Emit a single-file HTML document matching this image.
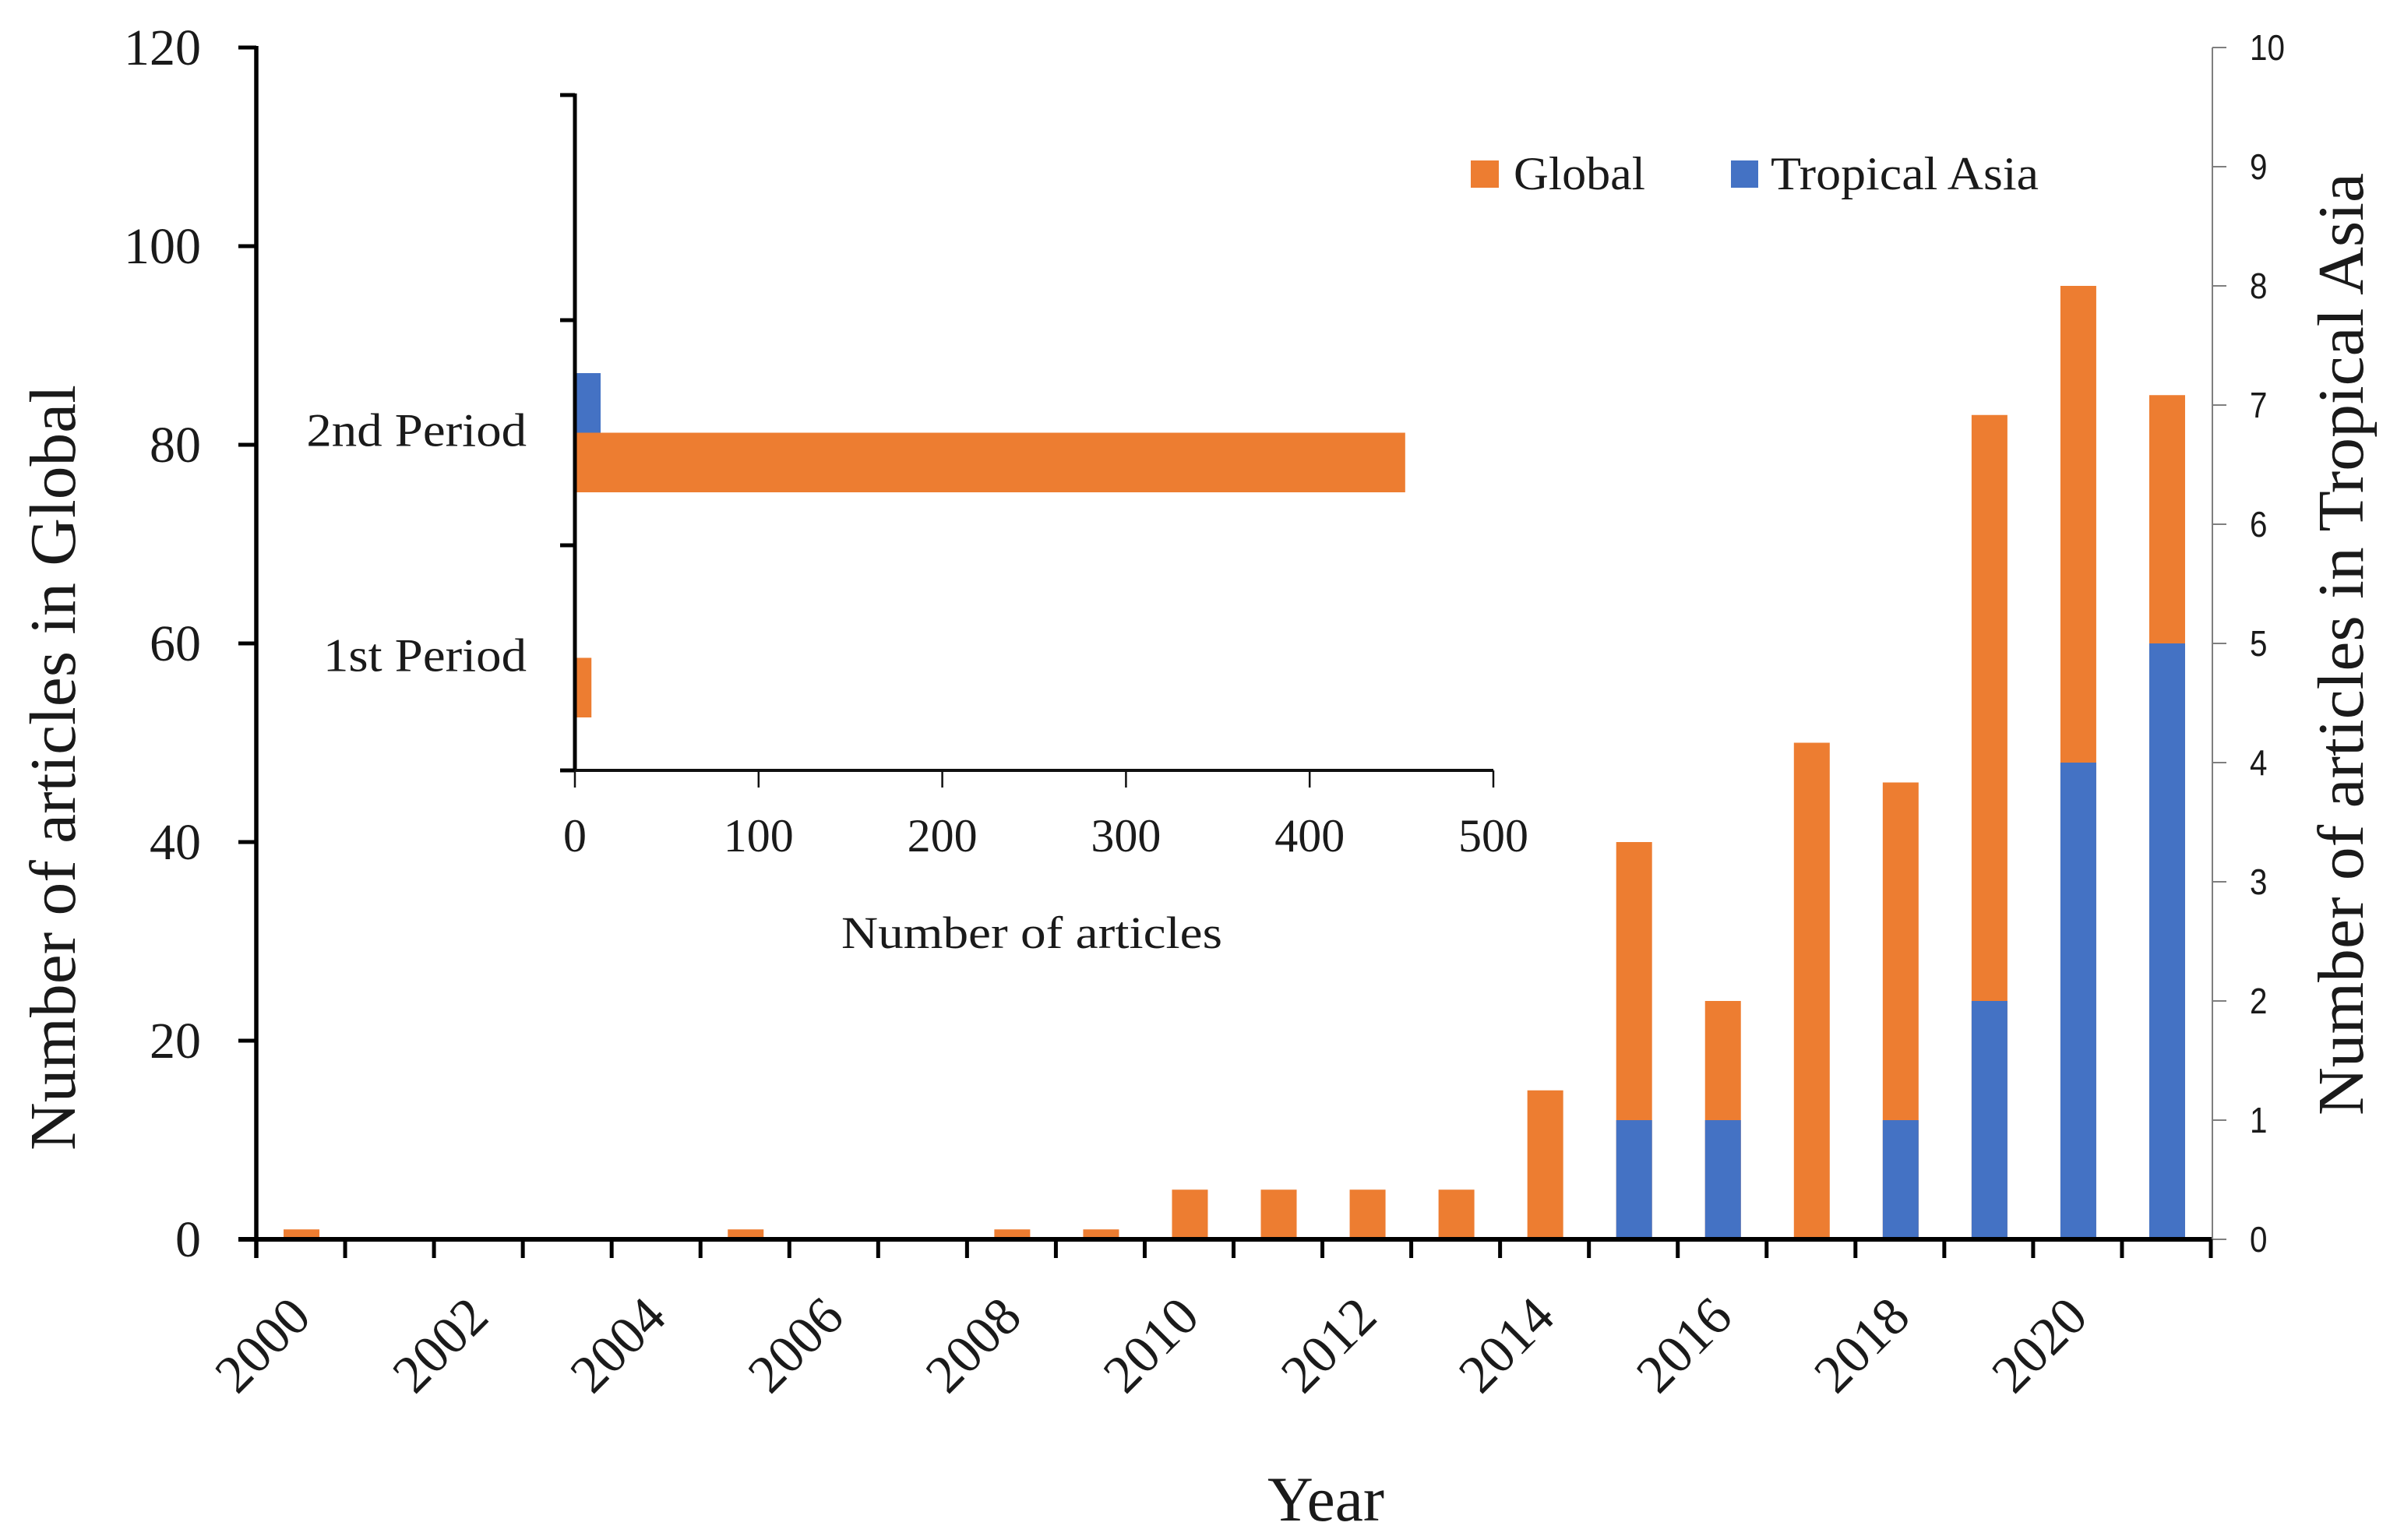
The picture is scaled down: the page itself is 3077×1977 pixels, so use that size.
<!DOCTYPE html>
<html lang="en">
<head>
<meta charset="utf-8">
<title>Number of articles in Global and Tropical Asia</title>
<style>
html,body{margin:0;padding:0;background:#fff;}
svg{display:block;}
text{font-family:"Liberation Serif",serif;fill:#1a1a1a;}
</style>
</head>
<body>
<svg id="chart" xmlns="http://www.w3.org/2000/svg" width="3077" height="1977" viewBox="0 0 3077 1977">
  <rect x="0" y="0" width="3077" height="1977" fill="#ffffff"/>
  <g id="main-bars"></g>
  <g id="main-axes"></g>
  <g id="inset-bars"></g>
  <g id="inset-axes"></g>

  <text transform="translate(96,1477) rotate(-90)" font-size="84" textLength="983" lengthAdjust="spacingAndGlyphs">Number of articles in Global</text>
  <text transform="translate(3033,1432) rotate(-90)" font-size="84" textLength="1210" lengthAdjust="spacingAndGlyphs">Number of articles in Tropical Asia</text>
  <text x="1627" y="1952" font-size="82" textLength="150" lengthAdjust="spacingAndGlyphs">Year</text>
  <text x="1080" y="1217" font-size="58" textLength="489" lengthAdjust="spacingAndGlyphs">Number of articles</text>

  <g>
    <rect x="1888" y="206" width="36" height="35" fill="#ED7D31"/>
    <text x="1943" y="243" font-size="60" textLength="169" lengthAdjust="spacingAndGlyphs">Global</text>
    <rect x="2222" y="206" width="35" height="35" fill="#4472C4"/>
    <text x="2273" y="243" font-size="60" textLength="344" lengthAdjust="spacingAndGlyphs">Tropical Asia</text>
  </g>
</svg>
<script>
const years = [2000,2001,2002,2003,2004,2005,2006,2007,2008,2009,2010,2011,2012,2013,2014,2015,2016,2017,2018,2019,2020,2021];
const globalCounts = [1,0,0,0,0,1,0,0,1,1,5,5,5,5,15,40,24,50,46,83,96,85];
const tropicalCounts = [0,0,0,0,0,0,0,0,0,0,0,0,0,0,0,1,1,0,1,2,4,5];
const leftTicks = [0,20,40,60,80,100,120];
const rightTicks = [0,1,2,3,4,5,6,7,8,9,10];
const yearLabels = [2000,2002,2004,2006,2008,2010,2012,2014,2016,2018,2020];
const periods = ['1st Period','2nd Period',''];
const periodGlobal = [9,452,0];
const periodTropical = [0,14,0];
const insetTicks = [0,100,200,300,400,500];

const NS = 'http://www.w3.org/2000/svg';
function make(parent, tag, attrs, txt) {
  const n = document.createElementNS(NS, tag);
  for (const k in attrs) n.setAttribute(k, attrs[k]);
  if (txt !== undefined) n.textContent = txt;
  parent.appendChild(n);
  return n;
}

// main chart axis functions
const plotLeft = 329, plotRight = 2838, plotBase = 1591, plotTop = 61;
const barW = 46;
const xBand = (plotRight - plotLeft) / years.length;
const xEdge = i => plotLeft + i * xBand;
const xMid = i => plotLeft + (i + 0.5) * xBand + 1;
const yLeft = v => plotBase - v / 120 * (plotBase - plotTop);
const yRight = v => plotBase - v / 10 * (plotBase - plotTop);

const mainBars = document.getElementById('main-bars');
const mainAxes = document.getElementById('main-axes');

years.forEach((yr, i) => {
  if (globalCounts[i] > 0) {
    const b = make(mainBars, 'rect', {x: xMid(i) - barW / 2, y: yLeft(globalCounts[i]), width: barW, height: plotBase - yLeft(globalCounts[i]), fill: '#ED7D31'});
    
    
  }
});
years.forEach((yr, i) => {
  if (tropicalCounts[i] > 0) {
    const b = make(mainBars, 'rect', {x: xMid(i) - barW / 2, y: yRight(tropicalCounts[i]), width: barW, height: plotBase - yRight(tropicalCounts[i]), fill: '#4472C4'});
    
    
  }
});

const leftAxis = make(mainAxes, 'line', {x1: plotLeft, y1: plotTop - 2, x2: plotLeft, y2: plotBase + 24, stroke: '#000', 'stroke-width': 5.5});



const baseAxis = make(mainAxes, 'line', {x1: 306, y1: plotBase, x2: plotRight + 1, y2: plotBase, stroke: '#000', 'stroke-width': 6});



const rightAxis = make(mainAxes, 'line', {x1: 2840, y1: plotTop, x2: 2840, y2: plotBase, stroke: '#7f7f7f', 'stroke-width': 2});



leftTicks.forEach(v => {
  const t = make(mainAxes, 'line', {x1: 306, y1: yLeft(v), x2: plotLeft, y2: yLeft(v), stroke: '#000', 'stroke-width': 5});
  
  
  const l = make(mainAxes, 'text', {x: 258, y: yLeft(v) + 22, 'font-size': 66, 'text-anchor': 'end'}, String(v));
  
  
});

rightTicks.forEach(v => {
  const t = make(mainAxes, 'line', {x1: 2840, y1: yRight(v), x2: 2858, y2: yRight(v), stroke: '#7f7f7f', 'stroke-width': 2});
  
  
  const l = make(mainAxes, 'text', {x: 2888, y: yRight(v) + 16, 'font-size': 46, style: 'font-family:"Liberation Sans",sans-serif', textLength: 22.5 * String(v).length, lengthAdjust: 'spacingAndGlyphs'}, String(v));
  
  
});

for (let i = 0; i <= years.length; i++) {
  const t = make(mainAxes, 'line', {x1: xEdge(i), y1: plotBase, x2: xEdge(i), y2: 1615, stroke: '#000', 'stroke-width': 5});
  
  
}

yearLabels.forEach(yr => {
  const i = years.indexOf(yr);
  const px = xMid(i) + 15, py = 1694;
  const l = make(mainAxes, 'text', {transform: 'translate(' + px + ',' + py + ') rotate(-45)', 'font-size': 69, 'text-anchor': 'end'}, String(yr));
  
  
});

// inset chart axis functions
const inLeft = 738, inBase = 989, inBandH = 289, inBarH = 76.5;
const xIn = v => inLeft + v * 2.358;
const bandCentre = i => inBase - (i + 0.5) * inBandH;

const insetBars = document.getElementById('inset-bars');
const insetAxes = document.getElementById('inset-axes');

periods.forEach((p, i) => {
  if (periodGlobal[i] > 0) {
    const b = make(insetBars, 'rect', {x: inLeft, y: bandCentre(i), width: xIn(periodGlobal[i]) - inLeft, height: inBarH, fill: '#ED7D31'});
    
    
  }
  if (periodTropical[i] > 0) {
    const b = make(insetBars, 'rect', {x: inLeft, y: bandCentre(i) - inBarH, width: xIn(periodTropical[i]) - inLeft, height: inBarH, fill: '#4472C4'});
    
    
  }
  if (p) {
    const l = make(insetAxes, 'text', {x: 676, y: bandCentre(i) + 17, 'font-size': 60, 'text-anchor': 'end'}, p);
    
    
    l.setAttribute('textLength', l.getComputedTextLength() * 1.08);
    l.setAttribute('lengthAdjust', 'spacingAndGlyphs');
  }
});

const inY = make(insetAxes, 'line', {x1: inLeft, y1: inBase - periods.length * inBandH - 2, x2: inLeft, y2: inBase + 1, stroke: '#000', 'stroke-width': 5});



const inX = make(insetAxes, 'line', {x1: inLeft, y1: inBase, x2: xIn(500), y2: inBase, stroke: '#111', 'stroke-width': 4});



for (let i = 0; i <= periods.length; i++) {
  const t = make(insetAxes, 'line', {x1: 719, y1: inBase - i * inBandH, x2: inLeft, y2: inBase - i * inBandH, stroke: '#000', 'stroke-width': 5});
  
  
}

insetTicks.forEach(v => {
  const t = make(insetAxes, 'line', {x1: xIn(v), y1: inBase, x2: xIn(v), y2: 1011, stroke: '#111', 'stroke-width': 2.5});
  
  
  const l = make(insetAxes, 'text', {x: xIn(v), y: 1093, 'font-size': 60, 'text-anchor': 'middle'}, String(v));
  
  
});
</script>
</body>
</html>
